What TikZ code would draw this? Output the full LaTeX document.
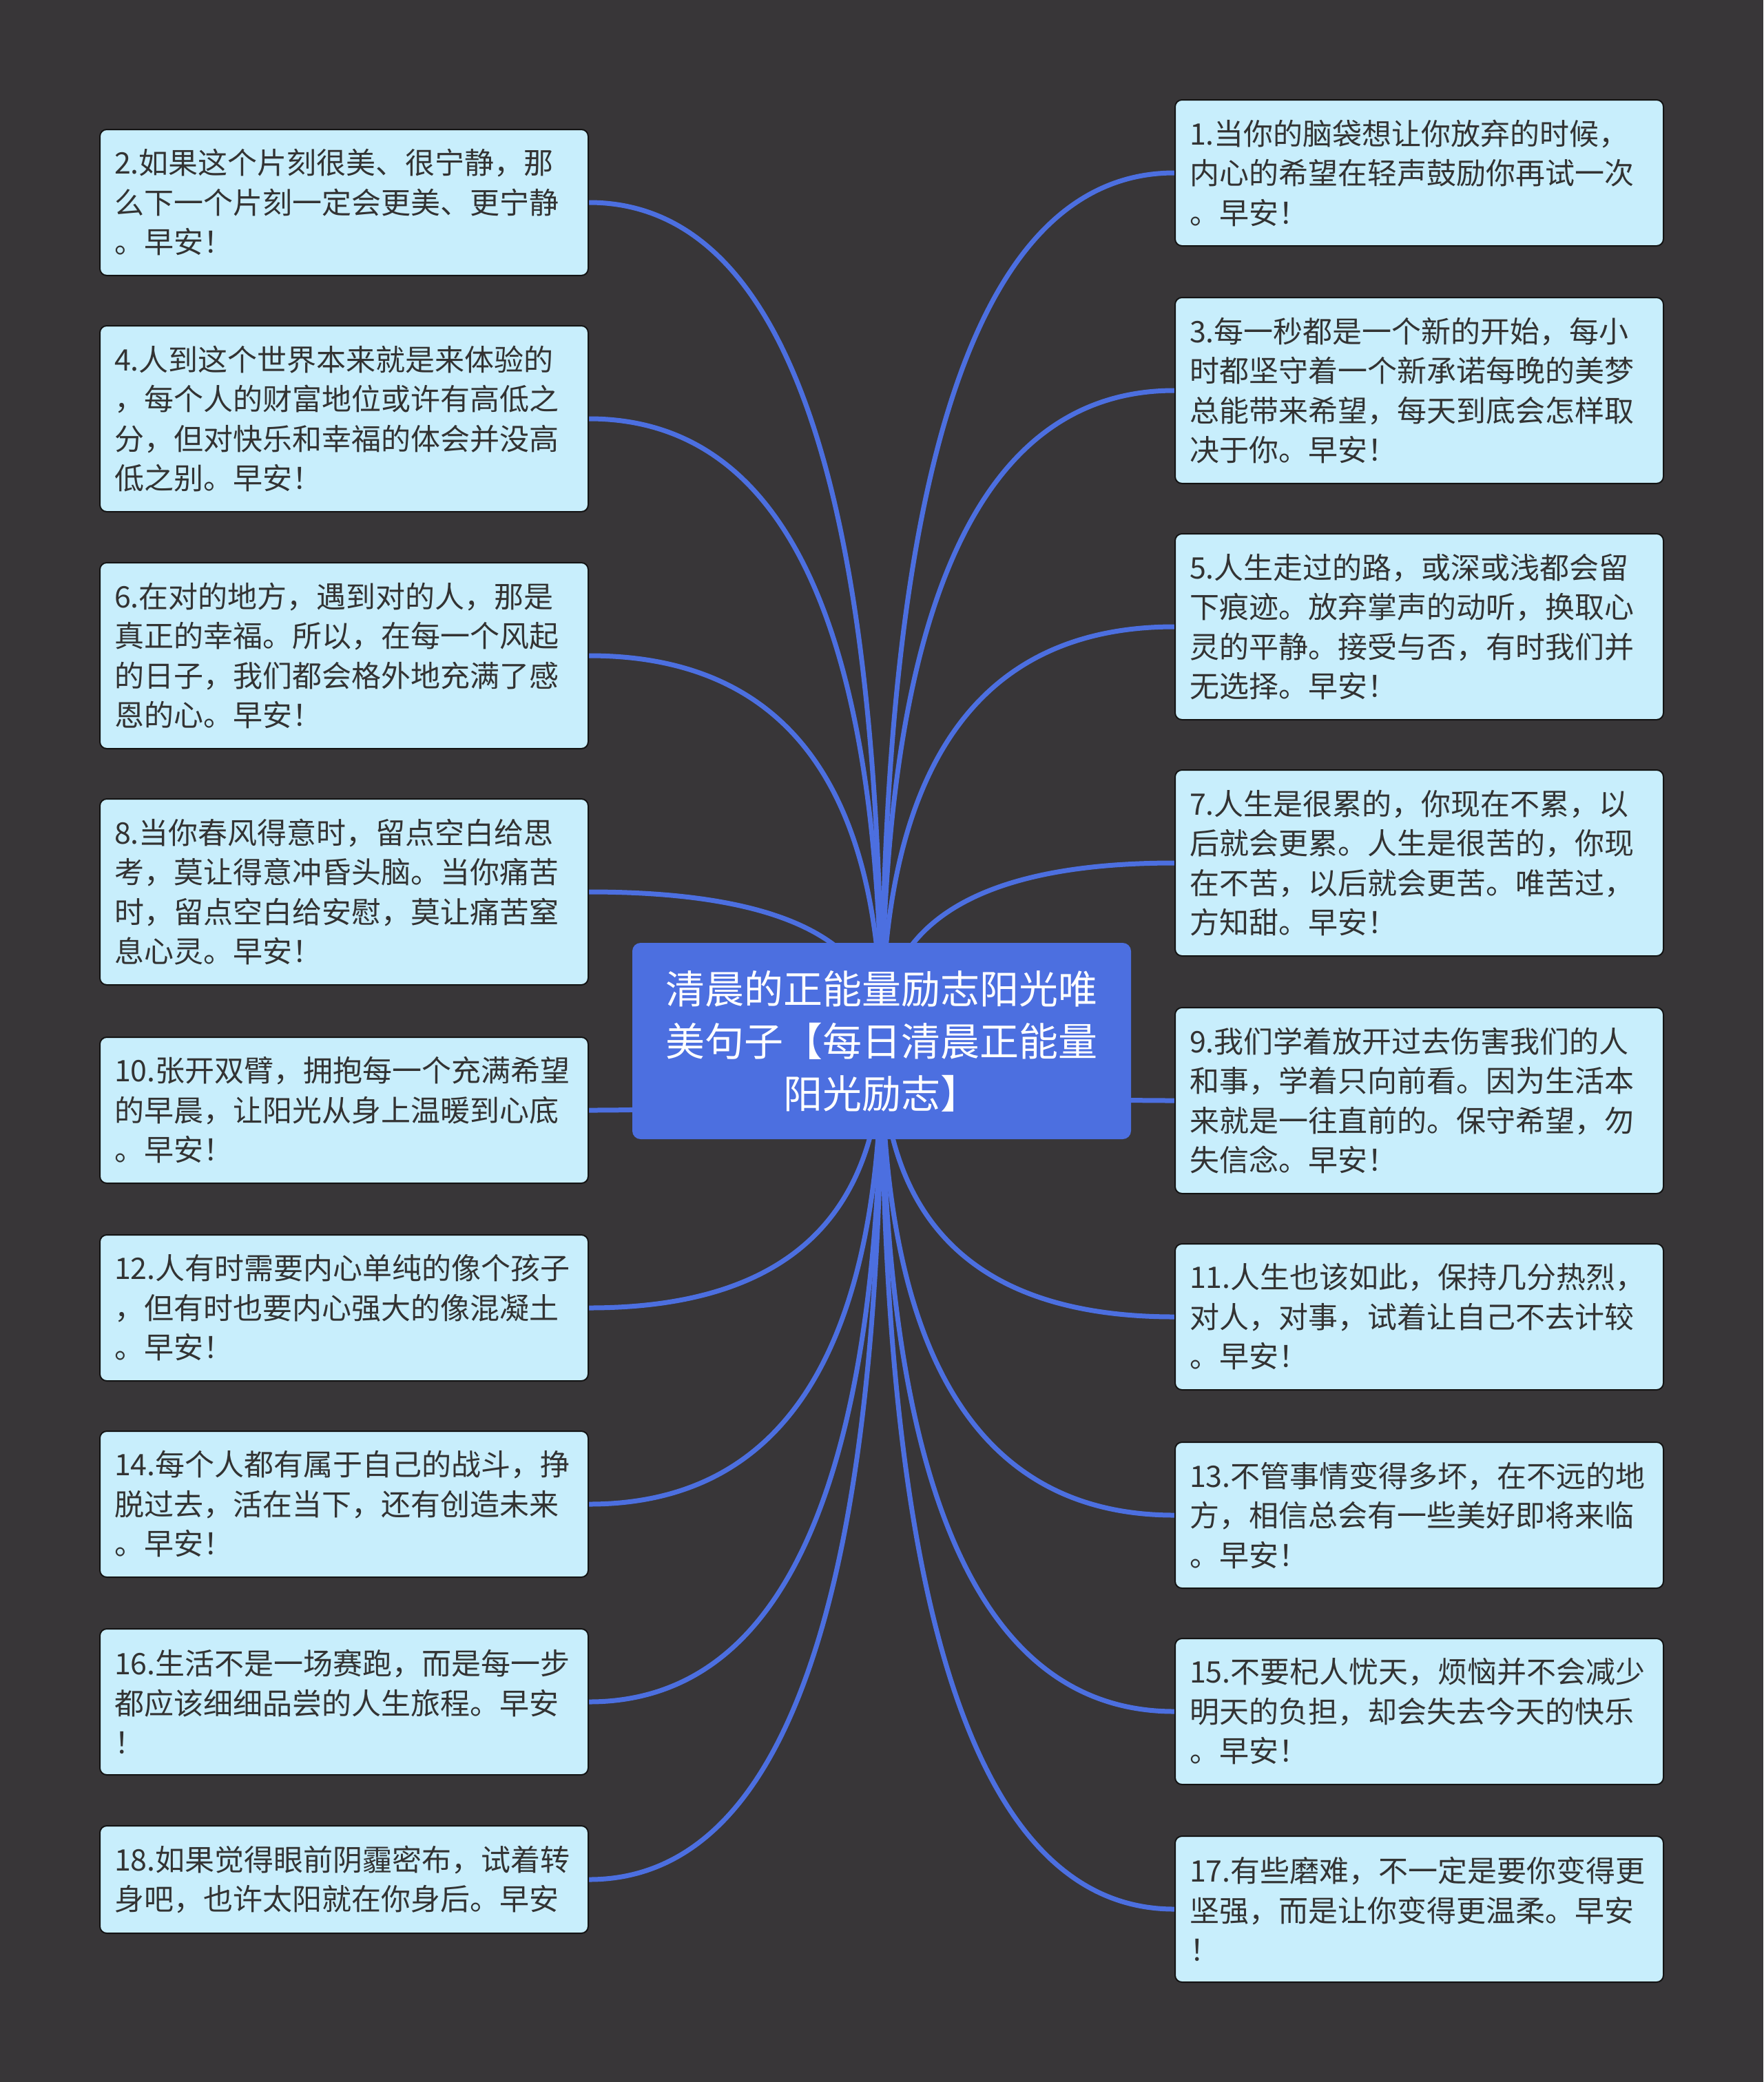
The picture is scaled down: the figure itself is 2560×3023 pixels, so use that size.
\documentclass[tikz,border=0pt]{standalone}
\usepackage{fontspec}
\newfontfamily\cjk{Noto Sans CJK SC}
\usetikzlibrary{calc}
\definecolor{bg}{HTML}{383638}
\definecolor{leaf}{HTML}{C8EEFC}
\definecolor{hub}{HTML}{4C6FE0}
\definecolor{ink}{HTML}{333333}
\definecolor{rim}{HTML}{141414}
\pgfdeclarelayer{bglayer}
\pgfdeclarelayer{links}
\pgfsetlayers{bglayer,links,main}
\begin{document}
\begin{tikzpicture}[x=1pt,y=-1pt,
  leafbox/.style={draw=rim, line width=2pt, fill=leaf, rounded corners=10pt,
    text width=667pt, align=left, inner xsep=21pt, inner ysep=0pt,
    font=\cjk\fontsize{43}{57.5}\selectfont, text=ink},
  three/.style={leafbox, minimum height=212pt},
  four/.style={leafbox, minimum height=270pt},
  two/.style={leafbox, minimum height=156pt},
  hubbox/.style={fill=hub, rounded corners=12pt, minimum width=724pt, minimum height=285pt,
    align=center, font=\cjk\fontsize{57}{76}\selectfont, text=white, inner sep=0pt},
  link/.style={draw=hub, line width=7pt}]
\begin{pgfonlayer}{bglayer}
\path[fill=bg] (0,0) rectangle (2560,3023);
\end{pgfonlayer}
\useasboundingbox (0,0) rectangle (2560,3023);

\node[hubbox] (hub) at (1280,1511.5) {清晨的正能量励志阳光唯\\美句子【每日清晨正能量\\阳光励志】};

% left column
\node[three] (l2) at (499.5,294) {2.如果这个片刻很美、很宁静，那\\么下一个片刻一定会更美、更宁静\\。早安！};
\node[four] (l4) at (499.5,608) {4.人到这个世界本来就是来体验的\\，每个人的财富地位或许有高低之\\分，但对快乐和幸福的体会并没高\\低之别。早安！};
\node[four] (l6) at (499.5,952) {6.在对的地方，遇到对的人，那是\\真正的幸福。所以，在每一个风起\\的日子，我们都会格外地充满了感\\恩的心。早安！};
\node[four] (l8) at (499.5,1295) {8.当你春风得意时，留点空白给思\\考，莫让得意冲昏头脑。当你痛苦\\时，留点空白给安慰，莫让痛苦窒\\息心灵。早安！};
\node[three] (l10) at (499.5,1612) {10.张开双臂，拥抱每一个充满希望\\的早晨，让阳光从身上温暖到心底\\。早安！};
\node[three] (l12) at (499.5,1899) {12.人有时需要内心单纯的像个孩子\\，但有时也要内心强大的像混凝土\\。早安！};
\node[three] (l14) at (499.5,2184) {14.每个人都有属于自己的战斗，挣\\脱过去，活在当下，还有创造未来\\。早安！};
\node[three] (l16) at (499.5,2471) {16.生活不是一场赛跑，而是每一步\\都应该细细品尝的人生旅程。早安\\！};
\node[two] (l18) at (499.5,2729) {18.如果觉得眼前阴霾密布，试着转\\身吧，也许太阳就在你身后。早安};

% right column
\node[three] (r1) at (2060.5,251) {1.当你的脑袋想让你放弃的时候，\\内心的希望在轻声鼓励你再试一次\\。早安！};
\node[four] (r3) at (2060.5,567) {3.每一秒都是一个新的开始，每小\\时都坚守着一个新承诺每晚的美梦\\总能带来希望，每天到底会怎样取\\决于你。早安！};
\node[four] (r5) at (2060.5,910) {5.人生走过的路，或深或浅都会留\\下痕迹。放弃掌声的动听，换取心\\灵的平静。接受与否，有时我们并\\无选择。早安！};
\node[four] (r7) at (2060.5,1253) {7.人生是很累的，你现在不累，以\\后就会更累。人生是很苦的，你现\\在不苦，以后就会更苦。唯苦过，\\方知甜。早安！};
\node[four] (r9) at (2060.5,1598) {9.我们学着放开过去伤害我们的人\\和事，学着只向前看。因为生活本\\来就是一往直前的。保守希望，勿\\失信念。早安！};
\node[three] (r11) at (2060.5,1912) {11.人生也该如此，保持几分热烈，\\对人，对事，试着让自己不去计较\\。早安！};
\node[three] (r13) at (2060.5,2200) {13.不管事情变得多坏，在不远的地\\方，相信总会有一些美好即将来临\\。早安！};
\node[three] (r15) at (2060.5,2485) {15.不要杞人忧天，烦恼并不会减少\\明天的负担，却会失去今天的快乐\\。早安！};
\node[three] (r17) at (2060.5,2772) {17.有些磨难，不一定是要你变得更\\坚强，而是让你变得更温柔。早安\\！};

\begin{pgfonlayer}{links}
\foreach \n in {l2,l4,l6,l8,l10,l12,l14,l16,l18}
  \draw[link] (\n.east) .. controls ($(\n.east)!0.667!(hub.center|-\n.east)$)
    and ($(hub.center)!0.667!(hub.center|-\n.east)$) .. (hub.center);
\foreach \n in {r1,r3,r5,r7,r9,r11,r13,r15,r17}
  \draw[link] (\n.west) .. controls ($(\n.west)!0.667!(hub.center|-\n.west)$)
    and ($(hub.center)!0.667!(hub.center|-\n.west)$) .. (hub.center);
\end{pgfonlayer}
\end{tikzpicture}
\end{document}
